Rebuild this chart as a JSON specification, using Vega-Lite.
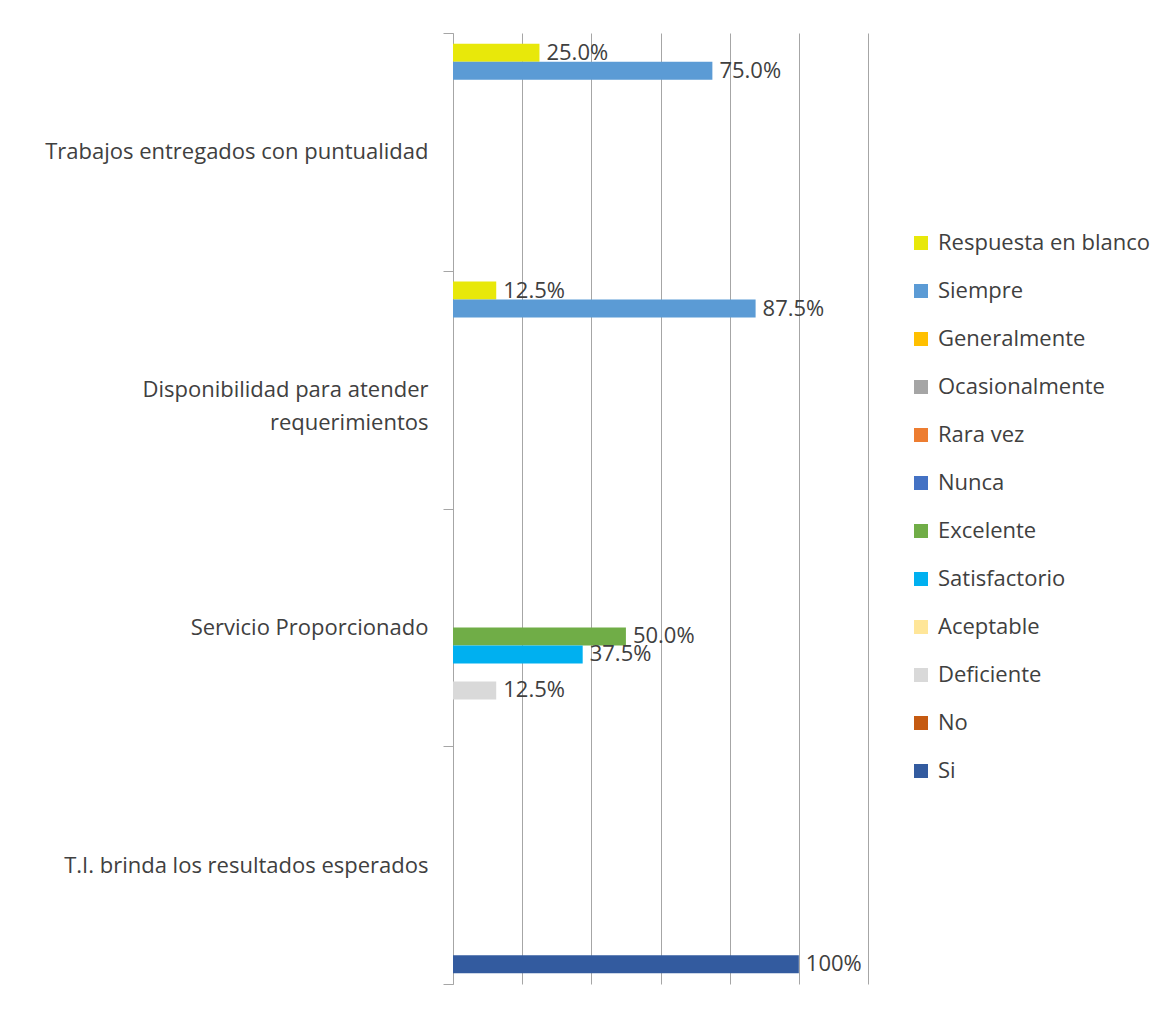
{
  "$schema": "https://vega.github.io/schema/vega-lite/v6.json",
  "width": 415,
  "height": 951,
  "autosize": {"type": "none"},
  "padding": {"left": 453, "top": 33, "right": 303, "bottom": 25},
  "background": "white",
  "config": {"view": {"stroke": null}, "font": "Open Sans"},
  "data": {
    "values": [
      {"categoria": "Trabajos entregados con puntualidad", "serie": "Respuesta en blanco", "valor": 0.25, "label": "25.0%"},
      {"categoria": "Trabajos entregados con puntualidad", "serie": "Siempre", "valor": 0.75, "label": "75.0%"},
      {"categoria": "Disponibilidad para atender requerimientos", "serie": "Respuesta en blanco", "valor": 0.125, "label": "12.5%"},
      {"categoria": "Disponibilidad para atender requerimientos", "serie": "Siempre", "valor": 0.875, "label": "87.5%"},
      {"categoria": "Servicio Proporcionado", "serie": "Excelente", "valor": 0.5, "label": "50.0%"},
      {"categoria": "Servicio Proporcionado", "serie": "Satisfactorio", "valor": 0.375, "label": "37.5%"},
      {"categoria": "Servicio Proporcionado", "serie": "Deficiente", "valor": 0.125, "label": "12.5%"},
      {"categoria": "T.I. brinda los resultados esperados", "serie": "Si", "valor": 1.0, "label": "100%"}
    ]
  },
  "encoding": {
    "y": {
      "field": "categoria",
      "type": "nominal",
      "sort": ["Trabajos entregados con puntualidad", "Disponibilidad para atender requerimientos", "Servicio Proporcionado", "T.I. brinda los resultados esperados"],
      "scale": {"paddingInner": 0, "paddingOuter": 0},
      "axis": {
        "title": null,
        "domain": true,
        "domainColor": "#A6A6A6",
        "ticks": true,
        "tickBand": "extent",
        "tickSize": 10,
        "tickColor": "#A6A6A6",
        "labelPadding": 15,
        "labelFontSize": 22,
        "labelColor": "#404040",
        "labelLimit": 0,
        "labelLineHeight": 33,
        "labelExpr": "datum.value == 'Disponibilidad para atender requerimientos' ? ['Disponibilidad para atender', 'requerimientos\u00a0\u00a0\u00a0\u00a0\u00a0\u00a0\u00a0\u00a0\u00a0\u00a0\u00a0\u00a0\u00a0'] : datum.value",
        "grid": false
      }
    },
    "yOffset": {
      "field": "serie",
      "type": "nominal",
      "scale": {
        "domain": ["Respuesta en blanco", "Siempre", "Generalmente", "Ocasionalmente", "Rara vez", "Nunca", "Excelente", "Satisfactorio", "Aceptable", "Deficiente", "No", "Si"],
        "paddingInner": 0,
        "paddingOuter": 0.6
      }
    },
    "x": {
      "field": "valor",
      "type": "quantitative",
      "scale": {"domain": [0, 1.2], "nice": false},
      "axis": {
        "title": null,
        "values": [0, 0.2, 0.4, 0.6, 0.8, 1.0, 1.2],
        "labels": false,
        "ticks": false,
        "domain": false,
        "grid": true,
        "gridColor": "#A6A6A6",
        "gridWidth": 1
      }
    }
  },
  "layer": [
    {
      "mark": {"type": "bar"},
      "encoding": {
        "color": {
          "field": "serie",
          "type": "nominal",
          "scale": {
            "domain": ["Respuesta en blanco", "Siempre", "Generalmente", "Ocasionalmente", "Rara vez", "Nunca", "Excelente", "Satisfactorio", "Aceptable", "Deficiente", "No", "Si"],
            "range": ["#E8E80A", "#5B9BD5", "#FFC000", "#A5A5A5", "#ED7D31", "#4472C4", "#70AD47", "#00B0F0", "#FFE699", "#D9D9D9", "#C55A11", "#335B9F"]
          },
          "legend": {
            "title": null,
            "orient": "none",
            "legendX": 457,
            "legendY": 199,
            "padding": 0,
            "symbolType": "square",
            "symbolSize": 196,
            "symbolStrokeWidth": 0,
            "labelFontSize": 22,
            "labelColor": "#404040",
            "labelLimit": 0,
            "labelOffset": 6,
            "rowPadding": 26
          }
        }
      }
    },
    {
      "mark": {"type": "text", "align": "left", "baseline": "middle", "dx": 7, "fontSize": 22, "color": "#404040"},
      "encoding": {"text": {"field": "label"}}
    }
  ]
}
